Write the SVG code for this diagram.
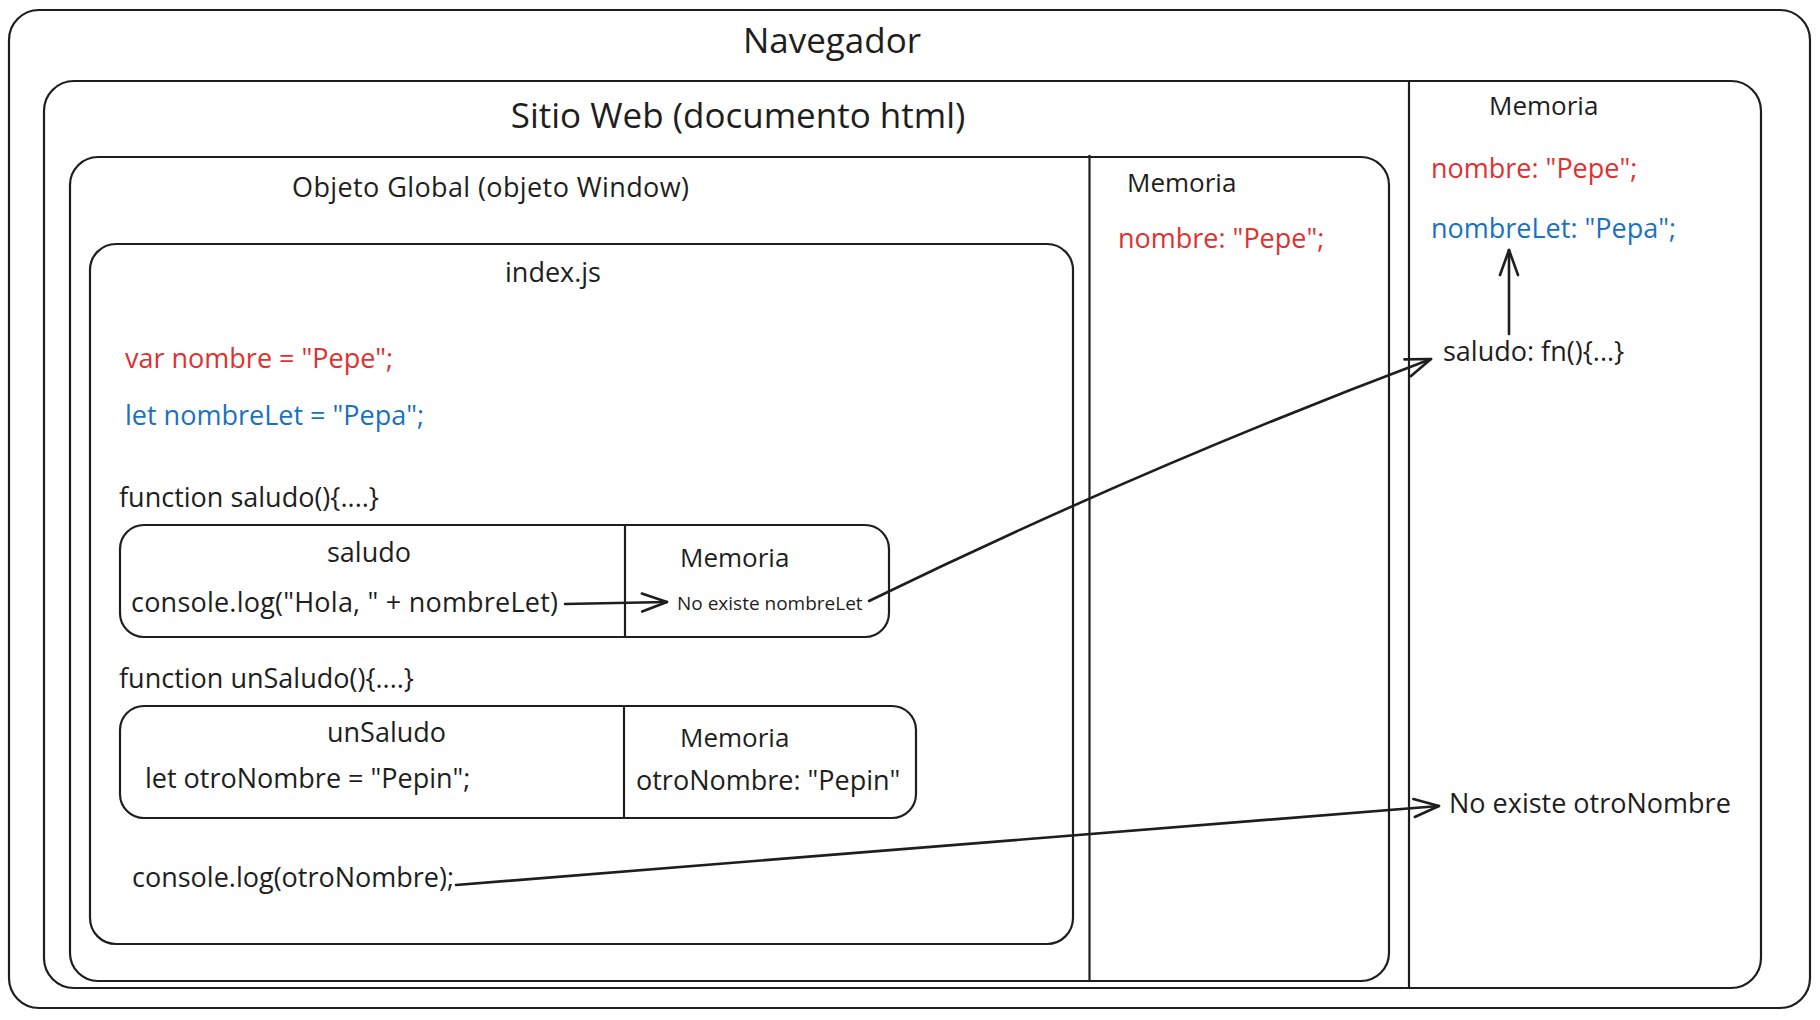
<svg xmlns="http://www.w3.org/2000/svg" width="1820" height="1020" viewBox="0 0 1820 1020">
<defs>
<style>
.box{fill:none;stroke:#1e1e1e;stroke-width:2.2;stroke-linejoin:round}
.div{stroke:#1e1e1e;stroke-width:2.2}
.t{font-family:"Open Sans","Noto Sans",sans-serif;fill:#1e1e1e;font-size:27px}
.red{fill:#e03131}
.blue{fill:#1971c2}
.c{text-anchor:middle}
.conn{fill:none;stroke:#1e1e1e;stroke-width:2.6;stroke-linecap:round}
</style>
<marker id="ah" markerUnits="userSpaceOnUse" viewBox="-28 -12 32 24" refX="0" refY="0" markerWidth="32" markerHeight="24" orient="auto">
<path d="M-25,-9 L0,0 L-25,9" fill="none" stroke="#1e1e1e" stroke-width="2.6" stroke-linecap="round" stroke-linejoin="round"/>
</marker>
</defs>
<rect width="1820" height="1020" fill="#ffffff"/>

<g id="navegador">
<rect class="box" x="9" y="10" width="1801" height="998" rx="30"/>
<text class="t c" x="832" y="53" style="font-size:35px">Navegador</text>
</g>

<g id="sitio-web">
<rect class="box" x="44" y="81" width="1717" height="907" rx="30"/>
<line class="div" x1="1409" y1="81" x2="1409" y2="988"/>
<text class="t c" x="738" y="128" style="font-size:35px">Sitio Web (documento html)</text>
</g>

<g id="memoria-sitio">
<text class="t" x="1489" y="115" style="font-size:26px">Memoria</text>
<text class="t red" x="1431" y="178">nombre: "Pepe";</text>
<text class="t blue" x="1431" y="238">nombreLet: "Pepa";</text>
<text class="t" x="1443" y="361">saludo: fn(){...}</text>
<text class="t" x="1449" y="813">No existe otroNombre</text>
</g>

<g id="objeto-global">
<rect class="box" x="70" y="157" width="1319" height="824" rx="28"/>
<line class="div" x1="1089.5" y1="155" x2="1089.5" y2="980"/>
<text class="t" x="292" y="197" textLength="397" lengthAdjust="spacing">Objeto Global (objeto Window)</text>
</g>

<g id="memoria-global">
<text class="t" x="1127" y="192" style="font-size:26px">Memoria</text>
<text class="t red" x="1118" y="248">nombre: "Pepe";</text>
</g>

<g id="index-js">
<rect class="box" x="90" y="244" width="983" height="700" rx="26"/>
<text class="t c" x="553" y="282">index.js</text>
<text class="t red" x="125" y="368">var nombre = "Pepe";</text>
<text class="t blue" x="125" y="425">let nombreLet = "Pepa";</text>
<text class="t" x="119" y="507">function saludo(){....}</text>
<text class="t" x="119" y="688">function unSaludo(){....}</text>
<text class="t" x="132" y="887">console.log(otroNombre);</text>
</g>

<g id="saludo">
<rect class="box" x="120" y="525" width="769" height="112" rx="24"/>
<line class="div" x1="625" y1="526" x2="625" y2="638"/>
<text class="t" x="327" y="562">saludo</text>
<text class="t" x="680" y="567" style="font-size:26px">Memoria</text>
<text class="t" x="131" y="612" textLength="427" lengthAdjust="spacing">console.log("Hola, " + nombreLet)</text>
<text class="t" x="677" y="610" style="font-size:19px">No existe nombreLet</text>
</g>

<g id="unSaludo">
<rect class="box" x="120" y="706" width="796" height="112" rx="24"/>
<line class="div" x1="624" y1="706" x2="624" y2="819"/>
<text class="t" x="327" y="742">unSaludo</text>
<text class="t" x="680" y="747" style="font-size:26px">Memoria</text>
<text class="t" x="145" y="788">let otroNombre = "Pepin";</text>
<text class="t" x="636" y="790">otroNombre: "Pepin"</text>
</g>

<g id="connectors">
<path class="conn" d="M565,604 L667,602" marker-end="url(#ah)"/>
<path class="conn" d="M869,601 Q1144,467 1431,359" marker-end="url(#ah)"/>
<path class="conn" d="M1509,334 L1509,250" marker-end="url(#ah)"/>
<path class="conn" d="M456,885 L1439,806" marker-end="url(#ah)"/>
</g>
</svg>
